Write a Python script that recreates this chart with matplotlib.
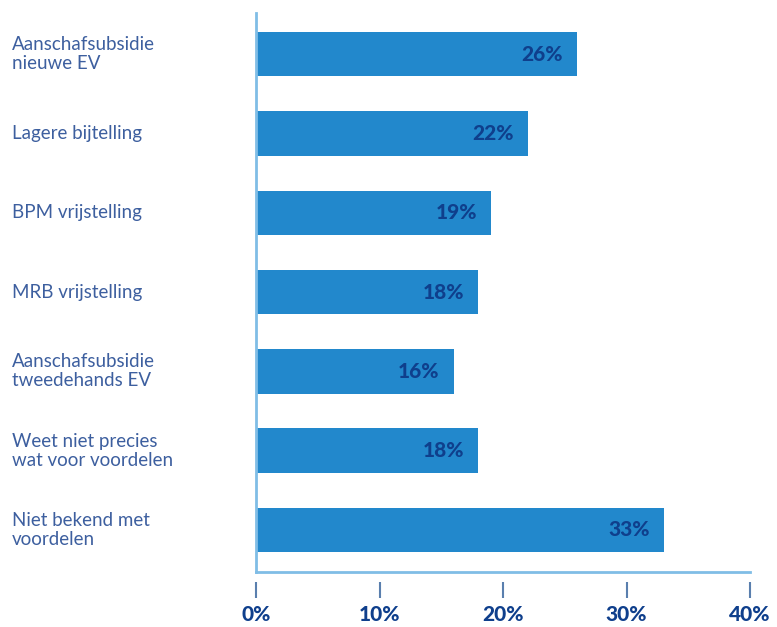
import matplotlib.pyplot as plt
from matplotlib.transforms import blended_transform_factory

categories = [
    "Aanschafsubsidie\nnieuwe EV",
    "Lagere bijtelling",
    "BPM vrijstelling",
    "MRB vrijstelling",
    "Aanschafsubsidie\ntweedehands EV",
    "Weet niet precies\nwat voor voordelen",
    "Niet bekend met\nvoordelen",
]
percentages = [26, 22, 19, 18, 16, 18, 33]
x_ticks = [0, 10, 20, 30, 40]
x_tick_labels = ["0%", "10%", "20%", "30%", "40%"]

bar_color = "#2288cc"
value_color = "#0f3f8c"
label_color = "#3d5f9f"
spine_color = "#80bde6"
tick_color = "#5a7fae"

fig = plt.figure(figsize=(7.77, 6.27), dpi=100)
ax = fig.add_axes([0.3295, 0.0877, 0.6358, 0.8916])

y = list(range(len(categories)))
bars = ax.barh(y, percentages, height=0.56, color=bar_color)

ax.set_xlim(0, 40)
ax.set_ylim(6.53, -0.52)

# waarde rechts in de balk
for bar, val in zip(bars, percentages):
    ax.annotate(f"{val}%", xy=(bar.get_width(), bar.get_y() + bar.get_height() / 2),
                xytext=(-10, 0), textcoords="offset points", ha="right", va="center",
                fontsize=15, fontweight=900, color=value_color, family="Lato")

# categorie labels links, uitgelijnd op vaste x-positie in figuur
ax.set_yticks([])
trans = blended_transform_factory(fig.transFigure, ax.transData)
for yi, cat in zip(y, categories):
    ax.text(12 / 777, yi, cat, transform=trans, ha="left",
            va="center", fontsize=13.5, color=label_color, family="Lato",
            linespacing=1.15)

for side in ["top", "right"]:
    ax.spines[side].set_visible(False)
ax.spines["left"].set_color(spine_color)
ax.spines["bottom"].set_color(spine_color)
ax.spines["left"].set_linewidth(2)
ax.spines["bottom"].set_linewidth(2)
ax.tick_params(axis="x", length=0, labelbottom=False)

# losse tickstreepjes onder de as
sec = ax.secondary_xaxis(-0.018)
sec.spines["bottom"].set_visible(False)
sec.set_xticks(x_ticks)
sec.set_xticklabels(x_tick_labels)
sec.tick_params(axis="x", length=11.5, width=1.5, color=tick_color, pad=5,
                labelsize=15, labelcolor=value_color)
for lbl in sec.get_xticklabels():
    lbl.set_fontweight(900)
    lbl.set_family("Lato")

plt.savefig("out.png", dpi=100)
